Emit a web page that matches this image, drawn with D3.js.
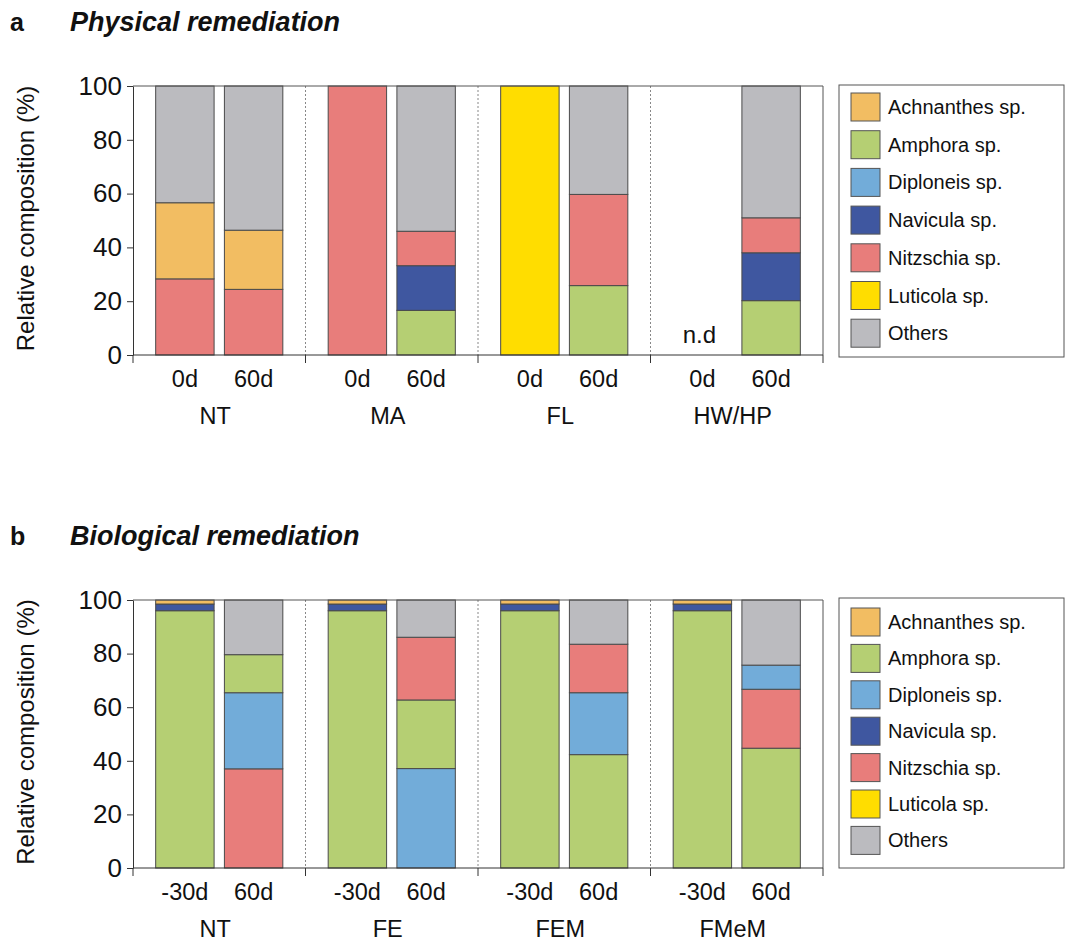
<!DOCTYPE html>
<html>
<head>
<meta charset="utf-8">
<script src="https://cdn.jsdelivr.net/npm/d3@7"></script>
<style>
  body { margin: 0; background: #fff; }
  text { font-family: "Liberation Sans", Arial, sans-serif; fill: #111; }
</style>
</head>
<body>
<div id="chart"></div>
<script>
// species and colours
const species = ["Achnanthes sp.", "Amphora sp.", "Diploneis sp.", "Navicula sp.", "Nitzschia sp.", "Luticola sp.", "Others"];
const colors = ["#f2bd62", "#b5cf73", "#72acd9", "#3f57a0", "#e87d7b", "#ffdd00", "#bbbbbf"];

// panel a: physical remediation
const groupsA = ["NT", "MA", "FL", "HW/HP"];
const timesA = ["0d", "60d"];
// one value per bar: NT0, NT60, MA0, MA60, FL0, FL60, HW0, HW60
const achnanthesA = [28.3, 22.0, 0, 0, 0, 0, 0, 0];
const amphoraA    = [0, 0, 0, 16.6, 0, 25.8, 0, 20.2];
const diploneisA  = [0, 0, 0, 0, 0, 0, 0, 0];
const naviculaA   = [0, 0, 0, 16.6, 0, 0, 0, 17.8];
const nitzschiaA  = [28.3, 24.4, 100, 12.8, 0, 33.9, 0, 13.0];
const luticolaA   = [0, 0, 0, 0, 100, 0, 0, 0];
const othersA     = [43.4, 53.6, 0, 54.0, 0, 40.3, 0, 49.0];
// stacking order, bottom to top (indexes into species)
const orderA = [
  [4, 0, 6], [4, 0, 6], [4], [1, 3, 4, 6],
  [5], [1, 4, 6], [], [1, 3, 4, 6]
];
const notDetectedA = [6];

// panel b: biological remediation
const groupsB = ["NT", "FE", "FEM", "FMeM"];
const timesB = ["-30d", "60d"];
const achnanthesB = [1.5, 0, 1.5, 0, 1.5, 0, 1.5, 0];
const amphoraB    = [96, 14.2, 96, 25.6, 96, 42.3, 96, 44.7];
const diploneisB  = [0, 28.4, 0, 37.1, 0, 23.1, 0, 9.0];
const naviculaB   = [2.5, 0, 2.5, 0, 2.5, 0, 2.5, 0];
const nitzschiaB  = [0, 37.0, 0, 23.4, 0, 18.1, 0, 22.0];
const luticolaB   = [0, 0, 0, 0, 0, 0, 0, 0];
const othersB     = [0, 20.4, 0, 13.9, 0, 16.5, 0, 24.3];
const orderB = [
  [1, 3, 0], [4, 2, 1, 6], [1, 3, 0], [2, 1, 4, 6],
  [1, 3, 0], [1, 2, 4, 6], [1, 3, 0], [1, 4, 2, 6]
];

const yTicks = [0, 20, 40, 60, 80, 100];

const W = 1069, H = 949;
const svg = d3.select("#chart").append("svg")
  .attr("width", W).attr("height", H);

function drawPanel(cfg) {
  const g = svg.append("g");
  const x0 = d3.scaleBand().domain(cfg.groups).range([133, 823]).padding(0);
  const x1 = d3.scaleBand().domain(cfg.times).range([0, x0.bandwidth()])
    .paddingInner(0.15).paddingOuter(0.33);
  const y = d3.scaleLinear().domain([0, 100]).range([cfg.bottom, cfg.top]);

  // titles
  g.append("text").attr("x", 10).attr("y", cfg.titleY)
    .attr("font-size", 25).attr("font-weight", "bold").text(cfg.letter);
  g.append("text").attr("x", 70).attr("y", cfg.titleY)
    .attr("font-size", 27).attr("font-weight", "bold").attr("font-style", "italic")
    .text(cfg.title);

  // dotted separators
  g.selectAll(".sep").data(cfg.groups.slice(1)).enter().append("line")
    .attr("x1", d => x0(d)).attr("x2", d => x0(d))
    .attr("y1", y(100)).attr("y2", y(0))
    .attr("stroke", "#888").attr("stroke-width", 1).attr("stroke-dasharray", "2,2");

  // bars
  const bars = [];
  cfg.groups.forEach((grp, gi) => {
    cfg.times.forEach((t, ti) => {
      const bi = gi * cfg.times.length + ti;
      let base = 0;
      cfg.order[bi].forEach(si => {
        const v = cfg.values[si][bi];
        bars.push({ x: x0(grp) + x1(t), y0: base, y1: base + v, color: colors[si] });
        base += v;
      });
    });
  });
  g.selectAll(".seg").data(bars).enter().append("rect")
    .attr("x", d => d.x)
    .attr("width", x1.bandwidth())
    .attr("y", d => y(d.y1))
    .attr("height", d => y(d.y0) - y(d.y1))
    .attr("fill", d => d.color)
    .attr("stroke", "#4a4a4a").attr("stroke-width", 1);

  // not detected labels
  (cfg.nd || []).forEach(bi => {
    const grp = cfg.groups[Math.floor(bi / cfg.times.length)];
    const t = cfg.times[bi % cfg.times.length];
    g.append("text").attr("x", x0(grp) + x1(t) + x1.bandwidth() / 2 - 3)
      .attr("y", y(0) - 12).attr("text-anchor", "middle")
      .attr("font-size", 24).text("n.d");
  });

  // frame top and right
  g.append("line").attr("x1", 133).attr("x2", 823).attr("y1", y(100)).attr("y2", y(100))
    .attr("stroke", "#555");
  g.append("line").attr("x1", 823).attr("x2", 823).attr("y1", y(100)).attr("y2", y(0))
    .attr("stroke", "#555");

  // y axis
  const yAxis = g.append("g").attr("transform", "translate(133,0)")
    .call(d3.axisLeft(y).tickValues(yTicks).tickSize(6).tickPadding(5).tickSizeOuter(0));
  yAxis.select(".domain").attr("stroke", "#333");
  yAxis.selectAll(".tick line").attr("stroke", "#333");
  yAxis.selectAll("text").attr("font-size", 26).attr("fill", "#111")
    .style("font-family", "'Liberation Sans', Arial, sans-serif");

  // x axis line with boundary ticks
  g.append("line").attr("x1", 133).attr("x2", 823).attr("y1", y(0)).attr("y2", y(0))
    .attr("stroke", "#333");
  const bounds = cfg.groups.map(d => x0(d)).concat([x0.range()[1]]);
  g.selectAll(".bt").data(bounds).enter().append("line")
    .attr("x1", d => d).attr("x2", d => d)
    .attr("y1", y(0)).attr("y2", y(0) + 8)
    .attr("stroke", "#333");

  // time labels
  cfg.groups.forEach(grp => {
    cfg.times.forEach(t => {
      g.append("text").attr("x", x0(grp) + x1(t) + x1.bandwidth() / 2)
        .attr("y", y(0) + 32).attr("text-anchor", "middle")
        .attr("font-size", 23.5).text(t);
    });
    g.append("text").attr("x", x0(grp) + x0.bandwidth() / 2 - 4)
      .attr("y", y(0) + 69).attr("text-anchor", "middle")
      .attr("font-size", 23.5).text(grp);
  });

  // y axis title
  g.append("text")
    .attr("transform", `translate(34,${(y(0) + y(100)) / 2 - 2}) rotate(-90)`)
    .attr("text-anchor", "middle").attr("font-size", 24)
    .text("Relative composition (%)");

  // legend
  const lg = g.append("g");
  lg.append("rect").attr("x", 839).attr("y", cfg.legTop)
    .attr("width", 225).attr("height", cfg.legH)
    .attr("fill", "#fff").attr("stroke", "#555");
  const rows = lg.selectAll(".row").data(species).enter().append("g")
    .attr("transform", (d, i) => `translate(851,${cfg.legFirst + i * cfg.legStep})`);
  rows.append("rect").attr("x", 0).attr("y", -14).attr("width", 29).attr("height", 28)
    .attr("fill", (d, i) => colors[i]).attr("stroke", "#555");
  rows.append("text").attr("x", 37).attr("y", 7).attr("font-size", 20).text(d => d);
}

drawPanel({
  letter: "a", title: "Physical remediation", titleY: 31,
  groups: groupsA, times: timesA, top: 86, bottom: 355,
  values: [achnanthesA, amphoraA, diploneisA, naviculaA, nitzschiaA, luticolaA, othersA],
  order: orderA, nd: notDetectedA,
  legTop: 85, legH: 272, legFirst: 107, legStep: 37.7
});

drawPanel({
  letter: "b", title: "Biological remediation", titleY: 545,
  groups: groupsB, times: timesB, top: 600, bottom: 868,
  values: [achnanthesB, amphoraB, diploneisB, naviculaB, nitzschiaB, luticolaB, othersB],
  order: orderB,
  legTop: 598, legH: 270, legFirst: 622, legStep: 36.4
});
</script>
</body>
</html>
